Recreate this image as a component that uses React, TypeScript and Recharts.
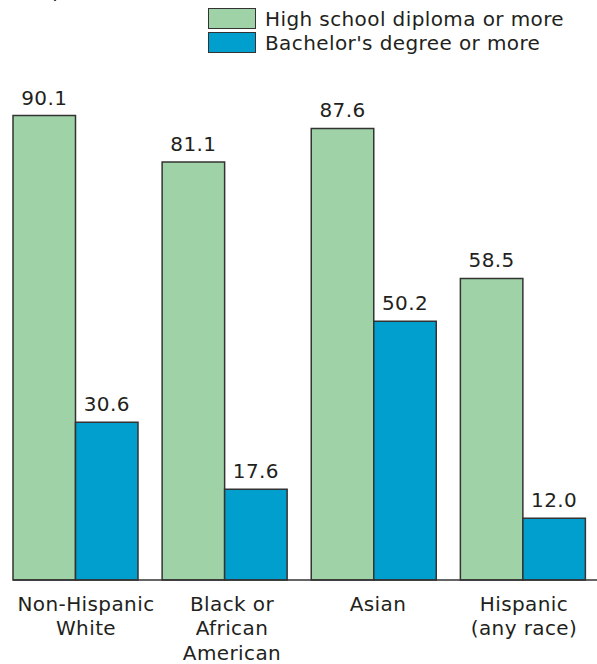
import { BarChart, Bar, XAxis, YAxis, LabelList, Legend } from 'recharts';

const groups = ['Non-Hispanic White', 'Black or African American', 'Asian', 'Hispanic (any race)'];
const groupLines = [['Non-Hispanic', 'White'], ['Black or', 'African', 'American'], ['Asian'], ['Hispanic', '(any race)']];
const highSchool = [90.1, 81.1, 87.6, 58.5];
const bachelor = [30.6, 17.6, 50.2, 12.0];

const GREEN = '#9fd3a7';
const BLUE = '#009fce';
const EDGE = '#333333';
const INK = '#231f20';
const FONT = '"DejaVu Sans", sans-serif';

const data = groups.map((g, i) => ({
  group: g,
  highSchool: highSchool[i],
  bachelor: bachelor[i],
}));

function GroupTick({ x, y, index }: any) {
  const lines = groupLines[index] || [];
  return (
    <text x={x} y={y + 30.5} textAnchor="middle" fill={INK} fontSize={20} fontFamily={FONT} letterSpacing={0.4}>
      {lines.map((l, i) => (
        <tspan key={i} x={x} dy={i === 0 ? 0 : 24.5}>{l}</tspan>
      ))}
    </text>
  );
}

function KeyBox() {
  const rows = [
    { name: 'High school diploma or more', color: GREEN },
    { name: "Bachelor's degree or more", color: BLUE },
  ];
  return (
    <div style={{ fontFamily: FONT, fontSize: 20, color: INK, letterSpacing: 0.4 }}>
      {rows.map(r => (
        <div key={r.name} style={{ display: 'flex', alignItems: 'flex-start', height: 24, lineHeight: '24px' }}>
          <div style={{ width: 48, height: 21, boxSizing: 'border-box', marginTop: 1, background: r.color, border: `1.5px solid ${EDGE}` }} />
          <span style={{ marginLeft: 9, whiteSpace: 'nowrap' }}>{r.name}</span>
        </div>
      ))}
    </div>
  );
}

export default function App() {
  return (
    <div style={{ position: 'absolute', left: 0, top: 0, width: 597, height: 664, overflow: 'hidden', background: '#fff' }}>
      <div style={{ position: 'absolute', left: 18, top: -22, fontFamily: FONT, fontSize: 20, lineHeight: '24px', color: INK, letterSpacing: 0.4 }}>
        (In percent)
      </div>
      <BarChart
        width={597}
        height={664}
        data={data}
        margin={{ top: 64.5, right: 0, bottom: 0, left: 13 }}
        barGap={0}
      >
        {/* bars sit on their own hidden band axis, slightly wider than the labelled one */}
        <XAxis dataKey="group" xAxisId="bars" hide height={0} padding={{ left: -12, right: -0.5 }} />
        <XAxis
          dataKey="group"
          xAxisId="labels"
          height={84}
          tickLine={false}
          tickSize={0}
          tickMargin={0}
          interval={0}
          axisLine={{ stroke: EDGE, strokeWidth: 1.5 }}
          tick={<GroupTick />}
        />
        <YAxis hide domain={[0, 100]} width={0} />
        <Legend
          layout="horizontal"
          verticalAlign="middle"
          align="center"
          wrapperStyle={{ top: 7, left: 208, width: 389, bottom: 'auto', right: 'auto' }}
          content={<KeyBox />}
        />
        <Bar dataKey="highSchool" xAxisId="bars" fill={GREEN} stroke={EDGE} strokeWidth={1.5} barSize={62.5} isAnimationActive={false}>
          <LabelList dataKey="highSchool" position="top" offset={11} fill={INK} fontSize={20} fontFamily={FONT} letterSpacing={0.4} formatter={(v: any) => Number(v).toFixed(1)} />
        </Bar>
        <Bar dataKey="bachelor" xAxisId="bars" fill={BLUE} stroke={EDGE} strokeWidth={1.5} barSize={62.5} isAnimationActive={false}>
          <LabelList dataKey="bachelor" position="top" offset={11} fill={INK} fontSize={20} fontFamily={FONT} letterSpacing={0.4} formatter={(v: any) => Number(v).toFixed(1)} />
        </Bar>
      </BarChart>
    </div>
  );
}
